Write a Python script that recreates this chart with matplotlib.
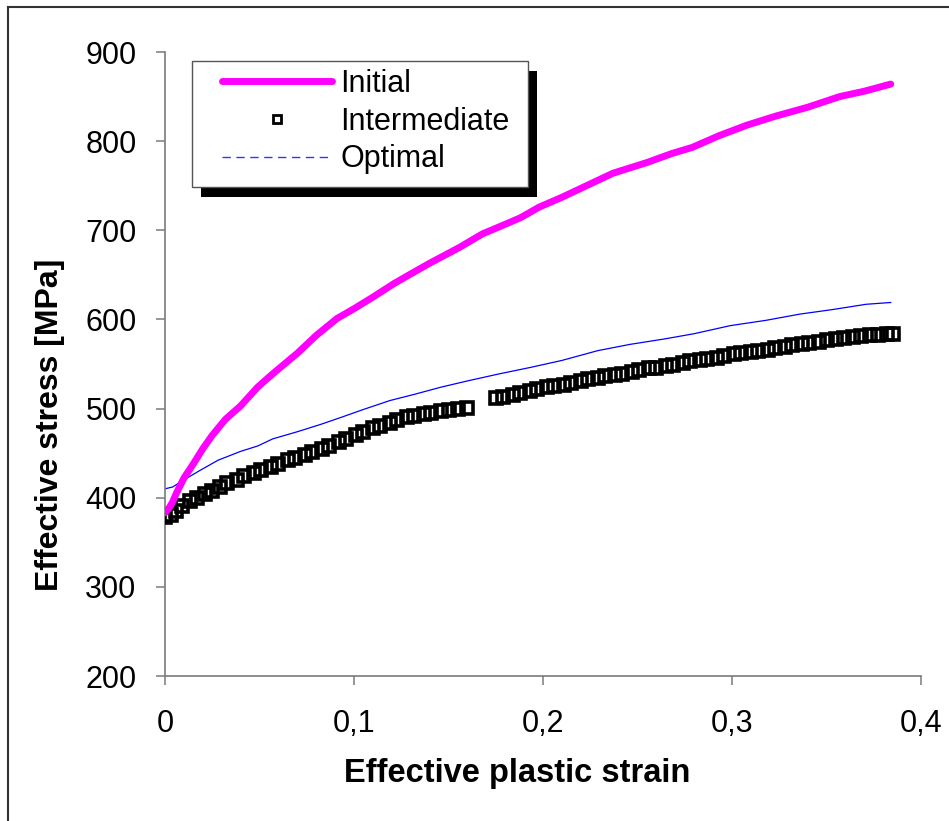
import matplotlib
matplotlib.use("Agg")
import matplotlib.pyplot as plt
from matplotlib.lines import Line2D
from matplotlib.patches import Rectangle
from matplotlib.ticker import FuncFormatter

plt.rcParams['font.family'] = ['Liberation Sans', 'DejaVu Sans']

# Initial
init_strain = [0.000, 0.002, 0.004, 0.006, 0.010, 0.015, 0.020, 0.025, 0.032, 0.040,
               0.049, 0.057, 0.070, 0.080, 0.091, 0.100, 0.110, 0.121, 0.130, 0.140,
               0.148, 0.156, 0.168, 0.177, 0.188, 0.198, 0.210, 0.220, 0.237, 0.255,
               0.268, 0.279, 0.293, 0.308, 0.323, 0.340, 0.357, 0.370, 0.384]
init_stress = [383, 388, 395, 405, 422, 438, 455, 470, 488, 503,
               524, 539, 562, 582, 601, 612, 625, 640, 651, 663,
               672, 681, 696, 704, 714, 726, 737, 747, 764, 776,
               786, 793, 806, 818, 828, 838, 850, 856, 864]

# Intermediate (markers only)
inter_strain = [0.000, 0.003, 0.006, 0.009, 0.013, 0.017, 0.021, 0.025, 0.029, 0.033,
                0.038, 0.042, 0.047, 0.051, 0.056, 0.060, 0.065, 0.069, 0.074, 0.078,
                0.083, 0.087, 0.092, 0.096, 0.101, 0.105, 0.110, 0.114, 0.119, 0.123,
                0.128, 0.132, 0.137, 0.141, 0.146, 0.150, 0.155, 0.160,
                0.175, 0.179, 0.184, 0.188, 0.193, 0.197, 0.202, 0.206, 0.211, 0.215,
                0.220, 0.224, 0.229, 0.233, 0.238, 0.242, 0.247, 0.251, 0.256, 0.260,
                0.265, 0.269, 0.274, 0.278, 0.283, 0.287, 0.292, 0.296, 0.301, 0.305,
                0.310, 0.314, 0.319, 0.323, 0.328, 0.332, 0.337, 0.341, 0.346, 0.350,
                0.355, 0.359, 0.364, 0.368, 0.373, 0.377, 0.382, 0.385]
inter_stress = [378, 381, 385, 391, 396, 400, 404, 408, 412, 416,
                420, 424, 428, 431, 435, 438, 442, 445, 448, 451,
                455, 458, 462, 466, 470, 474, 478, 481, 484, 487,
                490, 492, 494, 495, 497, 498, 500, 501,
                512, 513, 515, 518, 520, 522, 524, 525, 527, 529,
                531, 533, 534, 536, 538, 539, 541, 543, 545, 546,
                548, 549, 551, 553, 555, 556, 557, 559, 561, 562,
                564, 565, 566, 568, 569, 571, 572, 574, 575, 577,
                578, 579, 580, 581, 582, 583, 584, 584]

# Optimal
opt_strain = [0.000, 0.004, 0.010, 0.018, 0.028, 0.040, 0.049, 0.057, 0.070, 0.082,
              0.093, 0.105, 0.119, 0.132, 0.146, 0.160, 0.177, 0.193, 0.210, 0.229,
              0.246, 0.264, 0.280, 0.299, 0.318, 0.336, 0.353, 0.371, 0.384]
opt_stress = [410, 412, 420, 430, 442, 452, 458, 466, 474, 482,
              490, 499, 509, 516, 524, 531, 539, 546, 554, 565,
              572, 578, 584, 593, 599, 606, 611, 617, 619]

labels = ['Initial', 'Intermediate', 'Optimal']

fig = plt.figure(figsize=(9.49, 8.21), dpi=100)
ax = fig.add_axes([165 / 949, 1 - 676 / 821, 756 / 949, 624 / 821])

ax.plot(opt_strain, opt_stress, color='#0000ff', lw=0.9, zorder=2)
ax.plot(inter_strain, inter_stress, ls='none', marker='s', ms=8.5, mfc='none',
        mec='black', mew=2.6, zorder=3)
ax.plot(init_strain, init_stress, color='#ff00ff', lw=5, solid_capstyle='round',
        solid_joinstyle='round', zorder=4)

ax.set_xlim(0, 0.4)
ax.set_ylim(200, 900)
ax.set_xticks([0, 0.1, 0.2, 0.3, 0.4])
ax.set_yticks(range(200, 901, 100))
ax.xaxis.set_major_formatter(FuncFormatter(lambda v, p: '0' if v == 0 else ('%.1f' % v).replace('.', ',')))

for s in ['top', 'right']:
    ax.spines[s].set_visible(False)
for s in ['left', 'bottom']:
    ax.spines[s].set_color('#7a7a7a')
    ax.spines[s].set_linewidth(1.2)
ax.tick_params(axis='both', direction='out', length=6.5, width=1.1, color='#7a7a7a',
               labelsize=22, labelcolor='black')
ax.tick_params(axis='x', pad=17)
ax.tick_params(axis='y', pad=14)

ax.set_xlabel('Effective plastic strain', fontsize=23.5, fontweight='bold', va='center')
ax.xaxis.set_label_coords((517 - 165) / 756, (676 - 773) / 624)
ax.set_ylabel('Effective stress [MPa]', fontsize=23, fontweight='bold', va='center')
ax.yaxis.set_label_coords((50 - 165) / 756, (676 - 425) / 624)

# legend box with solid black shadow
fig.add_artist(Rectangle((201 / 949, 1 - 197 / 821), 336 / 949, 126 / 821,
                         transform=fig.transFigure, facecolor='black', edgecolor='none', zorder=5))
fig.add_artist(Rectangle((192 / 949, 1 - 187 / 821), 336 / 949, 126 / 821,
                         transform=fig.transFigure, facecolor='white', edgecolor='#555555',
                         lw=1.0, zorder=6))
handles = [Line2D([], [], color='#ff00ff', lw=5, solid_capstyle='round'),
           Line2D([], [], ls='none', marker='s', ms=5.5, mfc='none', mec='black', mew=2),
           Line2D([], [], color='#3333ff', lw=1.0, dashes=(6, 4))]
leg = fig.legend(handles, labels, loc='upper left', bbox_to_anchor=(222 / 949, 1 - 69 / 821),
                 frameon=False, fontsize=22, handlelength=3.6, handletextpad=0.28,
                 labelspacing=0.25, borderpad=0, borderaxespad=0)
leg.set_zorder(7)

# outer chart border (left and top visible)
fig.add_artist(Line2D([8 / 949, 8 / 949], [0, 1 - 7 / 821], transform=fig.transFigure,
                      color='#333333', lw=1.5))
fig.add_artist(Line2D([8 / 949, 1], [1 - 7 / 821, 1 - 7 / 821], transform=fig.transFigure,
                      color='#333333', lw=1.5))

fig.savefig('out.png', dpi=100)
